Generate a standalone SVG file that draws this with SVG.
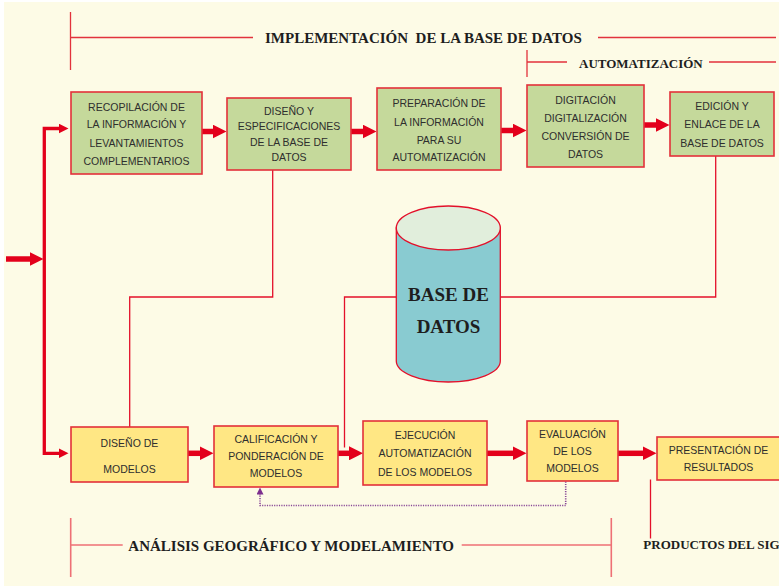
<svg xmlns="http://www.w3.org/2000/svg" width="779" height="586" viewBox="0 0 779 586">
<style>
.bg{fill:#FDFBE6}
.g{fill:#C5D99B;stroke:#E3303A;stroke-width:1.6}
.y{fill:#FFE784;stroke:#E3303A;stroke-width:1.6}
.t{font-family:"Liberation Sans",Arial,sans-serif;font-size:10.5px;fill:#2E2E2E;text-anchor:middle}
.h{font-family:"Liberation Serif","Times New Roman",serif;font-weight:bold;font-size:15px;fill:#1E1E1E}
.big{fill:none;stroke:#E3001B;stroke-width:5.5}
.br{fill:none;stroke:#E3001B;stroke-width:3.3}
.thin{fill:none;stroke:#E3102A;stroke-width:1.3}
.dot{fill:none;stroke:#8A4A98;stroke-width:1.6;stroke-dasharray:1.2 1.2}
.lt{fill:none;stroke:#E2323C;stroke-width:1.3}
.lb{fill:none;stroke:#EE7075;stroke-width:1.6}
</style>
<defs>
<marker id="ah" markerUnits="userSpaceOnUse" markerWidth="14" markerHeight="14" viewBox="0 0 14 14" refX="0.5" refY="7" orient="auto">
<path d="M0,0 L14,7 L0,14 z" fill="#E3001B"/>
</marker>
<marker id="as" markerUnits="userSpaceOnUse" markerWidth="10" markerHeight="10" viewBox="0 0 10 10" refX="0.5" refY="5" orient="auto">
<path d="M0,0 L10,5 L0,10 z" fill="#E3001B"/>
</marker>
<marker id="ap" markerUnits="userSpaceOnUse" markerWidth="7" markerHeight="7" viewBox="0 0 7 7" refX="0.5" refY="3.5" orient="auto">
<path d="M0,0 L7,3.5 L0,7 z" fill="#7D2E8E"/>
</marker>
</defs>
<rect class="bg" x="4" y="2" width="775" height="584"/>

<g id="labels">
<path class="lt" d="M70.5,12 V70 M70.5,37.5 H253 M598,37.5 H776"/>
<text class="h" x="265" y="43.3" xml:space="preserve">IMPLEMENTACIÓN  DE LA BASE DE DATOS</text>
<path class="lt" d="M527,50 V77 M527,62 H567 M709,62 H776"/>
<text class="h" x="579" y="67.5" style="font-size:13px">AUTOMATIZACIÓN</text>
<path class="lb" d="M70.7,518 V577 M70.7,545 H122.7 M461.7,545 H611.3 M611.3,518 V577"/>
<text class="h" x="128.3" y="550.5">ANÁLISIS GEOGRÁFICO Y MODELAMIENTO</text>
<path class="thin" d="M650.5,479.5 V538.5"/>
<text class="h" x="643.3" y="549" style="font-size:13px">PRODUCTOS DEL SIG</text>
</g>

<g id="connectors">
<path class="big" d="M6,259 H30" marker-end="url(#ah)"/>
<path class="br" d="M44.3,259 V128.5 H59" marker-end="url(#as)" stroke-linejoin="miter"/>
<path class="br" d="M44.3,259 V453.3 H59" marker-end="url(#as)" stroke-linejoin="miter"/>
<path class="big" d="M201,131.5 H213" marker-end="url(#ah)"/>
<path class="big" d="M351,131.5 H363" marker-end="url(#ah)"/>
<path class="big" d="M501,130.5 H513" marker-end="url(#ah)"/>
<path class="big" d="M644,125 H656" marker-end="url(#ah)"/>
<path class="big" d="M188,453.3 H200" marker-end="url(#ah)"/>
<path class="big" d="M338,453.3 H349.5" marker-end="url(#ah)"/>
<path class="big" d="M487,453.3 H513" marker-end="url(#ah)"/>
<path class="big" d="M618,453.3 H643" marker-end="url(#ah)"/>
<path class="thin" d="M272.7,170 V297 H129.7 V427"/>
<path class="thin" d="M396.4,297 H344.5 V447.5"/>
<path class="thin" d="M500.2,297 H715.7 V156"/>
<path class="dot" d="M565.7,481.5 V505.5 H260 V494" marker-end="url(#ap)"/>
</g>

<g id="n-recopilacion">
<rect class="g" x="71" y="92" width="131" height="82"/>
<text class="t" x="136.5" y="110.5">RECOPILACIÓN DE</text>
<text class="t" x="136.5" y="128">LA INFORMACIÓN Y</text>
<text class="t" x="136.5" y="146.5">LEVANTAMIENTOS</text>
<text class="t" x="136.5" y="164.5">COMPLEMENTARIOS</text>
</g>
<g id="n-diseno-bd">
<rect class="g" x="227" y="98" width="124" height="72"/>
<text class="t" x="289" y="114.5">DISEÑO Y</text>
<text class="t" x="289" y="130">ESPECIFICACIONES</text>
<text class="t" x="289" y="146">DE LA BASE DE</text>
<text class="t" x="289" y="161">DATOS</text>
</g>
<g id="n-preparacion">
<rect class="g" x="377" y="88" width="124" height="82"/>
<text class="t" x="439" y="107">PREPARACIÓN DE</text>
<text class="t" x="439" y="125.5">LA INFORMACIÓN</text>
<text class="t" x="439" y="144">PARA SU</text>
<text class="t" x="439" y="161">AUTOMATIZACIÓN</text>
</g>
<g id="n-digitacion">
<rect class="g" x="527" y="85" width="117" height="82"/>
<text class="t" x="585.5" y="104">DIGITACIÓN</text>
<text class="t" x="585.5" y="121.5">DIGITALIZACIÓN</text>
<text class="t" x="585.5" y="140">CONVERSIÓN DE</text>
<text class="t" x="585.5" y="158">DATOS</text>
</g>
<g id="n-edicion">
<rect class="g" x="670" y="92" width="104" height="64"/>
<text class="t" x="722" y="110">EDICIÓN Y</text>
<text class="t" x="722" y="128">ENLACE DE LA</text>
<text class="t" x="722" y="146.5">BASE DE DATOS</text>
</g>

<g id="n-base-datos">
<path d="M396.3,228 V361 A52,21 0 0 0 500.3,361 V228 z" fill="#89CBD1" stroke="#E3102A" stroke-width="1.3"/>
<ellipse cx="448.3" cy="228" rx="52" ry="22" fill="#E1EEDC" stroke="#E3102A" stroke-width="1.3"/>
<text class="h" x="448.5" y="300.8" style="font-size:19px;text-anchor:middle">BASE DE</text>
<text class="h" x="448.5" y="333" style="font-size:19px;text-anchor:middle">DATOS</text>
</g>

<g id="n-diseno-modelos">
<rect class="y" x="71" y="427" width="117" height="55"/>
<text class="t" x="129.5" y="446.5">DISEÑO DE</text>
<text class="t" x="129.5" y="473">MODELOS</text>
</g>
<g id="n-calificacion">
<rect class="y" x="214" y="426" width="124" height="61"/>
<text class="t" x="276" y="443">CALIFICACIÓN Y</text>
<text class="t" x="276" y="459.5">PONDERACIÓN DE</text>
<text class="t" x="276" y="476.5">MODELOS</text>
</g>
<g id="n-ejecucion">
<rect class="y" x="363" y="421" width="124" height="64"/>
<text class="t" x="425" y="439">EJECUCIÓN</text>
<text class="t" x="425" y="457">AUTOMATIZACIÓN</text>
<text class="t" x="425" y="475.5">DE LOS MODELOS</text>
</g>
<g id="n-evaluacion">
<rect class="y" x="527" y="421" width="91" height="60"/>
<text class="t" x="572.5" y="438">EVALUACIÓN</text>
<text class="t" x="572.5" y="455">DE LOS</text>
<text class="t" x="572.5" y="472">MODELOS</text>
</g>
<g id="n-presentacion">
<rect class="y" x="657" y="437" width="130" height="43"/>
<text class="t" x="718.5" y="454">PRESENTACIÓN DE</text>
<text class="t" x="718.5" y="470.5">RESULTADOS</text>
</g>
</svg>
